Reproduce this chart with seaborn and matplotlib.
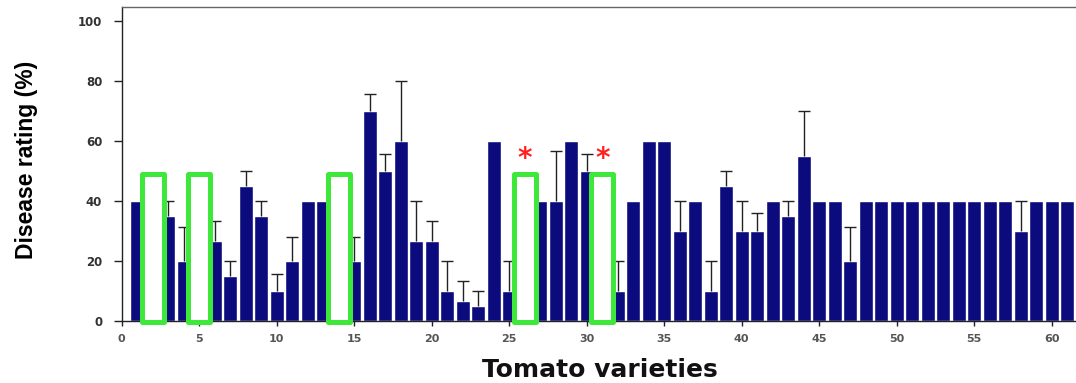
import numpy as np
import pandas as pd
import matplotlib
matplotlib.use("Agg")
import matplotlib.pyplot as plt
import seaborn as sns
from matplotlib.patches import Rectangle

nan = np.nan
varieties = list(range(1, 62))
ratings = [40, nan, 35, 20, nan, 26.7, 15, 45, 35, 10,
           20, 40, 40, nan, 20, 70, 50, 60, 26.7, 26.7,
           10, 6.7, 5, 60, 10, nan, 40, 40, 60, 50,
           nan, 10, 40, 60, 60, 30, 40, 10, 45, 30,
           30, 40, 35, 55, 40, 40, 20, 40, 40, 40,
           40, 40, 40, 40, 40, 40, 40, 30, 40, 40, 40]
errors = [0, nan, 5, 11.5, nan, 6.7, 5, 5, 5, 5.7,
          8, 0, 0, nan, 8, 5.6, 5.7, 20, 13.3, 6.7,
          10, 6.7, 5, 0, 10, nan, 0, 16.7, 0, 5.8,
          nan, 10, 0, 0, 0, 10, 0, 10, 5, 10,
          6, 0, 5, 15, 0, 0, 11.5, 0, 0, 0,
          0, 0, 0, 0, 0, 0, 0, 10, 0, 0, 0]
highlighted = [2, 5, 14, 26, 31]
starred = [26, 31]
xticks = list(range(0, 61, 5))
yticks = [0, 20, 40, 60, 80, 100]

df = pd.DataFrame({"variety": varieties, "rating": ratings, "err": errors}).dropna()

sns.set_style("ticks")
plt.rcParams["font.family"] = ["Liberation Sans", "DejaVu Sans"]

fig = plt.figure(figsize=(10.76, 3.83), dpi=100)
ax = fig.add_axes([121.7 / 1076, 62 / 383, (1076 - 121.7) / 1076, 314 / 383])

navy = "#0b0b7e"
green = "#3ee83a"

sns.barplot(data=df, x="variety", y="rating", native_scale=True, color=navy,
            saturation=1, width=0.92, edgecolor="white", linewidth=1,
            errorbar=None, ax=ax, zorder=2)

eb = df[df["err"] > 0]
_, caps, bars = ax.errorbar(eb["variety"], eb["rating"],
                            yerr=[np.zeros(len(eb)), eb["err"].values],
                            fmt="none", ecolor="#222222", elinewidth=1,
                            capsize=4.5, capthick=1, zorder=3)
for c in caps:
    if np.allclose(c.get_ydata(), eb["rating"].values):
        c.set_visible(False)

for v in highlighted:
    ax.add_patch(Rectangle((v - 0.72, -0.5), 1.44, 49.5, facecolor="white",
                           edgecolor=green, linewidth=3.6, joinstyle="round",
                           clip_on=False, zorder=4))
for v in starred:
    ax.text(v, 54, "*", color="#ff2020", fontsize=20, fontweight="bold",
            ha="center", va="center", family="DejaVu Sans", zorder=5)

ax.set_xlim(0, (1076 - 121.7) / 15.5)
ax.set_ylim(0, 104.7)
ax.set_xticks(xticks)
ax.set_xticklabels([str(t) for t in xticks], fontsize=8, fontweight="bold",
                   color="#555555", family="DejaVu Sans")
ax.set_yticks(yticks)
ax.set_yticklabels([str(t) for t in yticks], fontsize=8.5, fontweight="bold",
                   color="#333333", family="DejaVu Sans")
ax.tick_params(axis="y", length=6, width=1, pad=8, color="#222222")
ax.tick_params(axis="x", length=3.5, width=1, pad=6, color="#222222")

for s in ["left", "bottom", "top"]:
    ax.spines[s].set_visible(True)
    ax.spines[s].set_linewidth(1)
ax.spines["left"].set_color("#222222")
ax.spines["bottom"].set_color("#222222")
ax.spines["top"].set_color("#666666")
ax.spines["right"].set_visible(False)

ax.set_ylabel("Disease rating (%)", fontsize=16.5, fontweight="bold", color="black")
ax.yaxis.set_label_coords(-0.088, 0.513)
ax.set_xlabel("Tomato varieties", fontsize=18, fontweight="bold", color="#111111",
              family="DejaVu Sans")
ax.xaxis.set_label_coords(0.501, -0.118)
ax.xaxis.label.set_va("top")

fig.savefig("out.png", dpi=100)
